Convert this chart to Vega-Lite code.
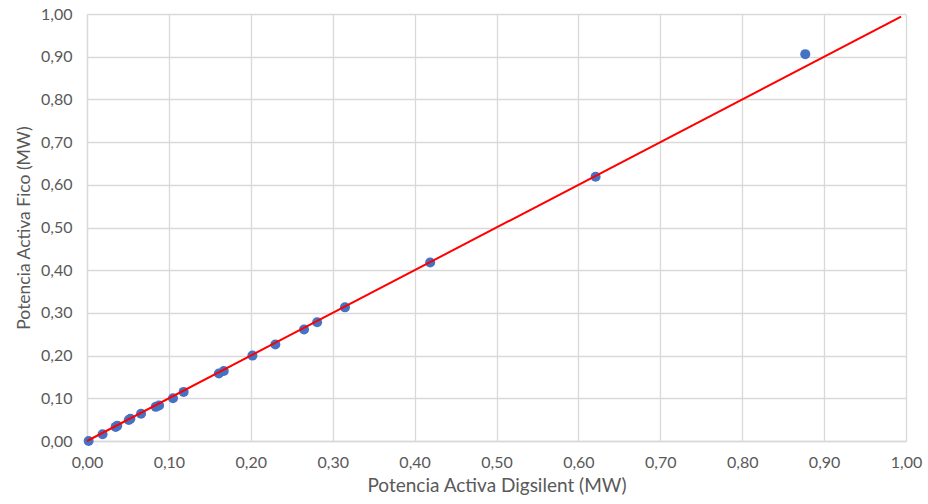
{
  "$schema": "https://vega.github.io/schema/vega-lite/v6.json",
  "width": 819,
  "height": 427,
  "autosize": "none",
  "padding": {"left": 87, "top": 14, "right": 22, "bottom": 63},
  "background": "white",
  "datasets": {
    "points": [
      {"digsilent": 0.002, "fico": 0.0},
      {"digsilent": 0.019, "fico": 0.016},
      {"digsilent": 0.035, "fico": 0.033},
      {"digsilent": 0.037, "fico": 0.036},
      {"digsilent": 0.051, "fico": 0.049},
      {"digsilent": 0.053, "fico": 0.052},
      {"digsilent": 0.066, "fico": 0.064},
      {"digsilent": 0.084, "fico": 0.080},
      {"digsilent": 0.088, "fico": 0.083},
      {"digsilent": 0.105, "fico": 0.100},
      {"digsilent": 0.118, "fico": 0.115},
      {"digsilent": 0.161, "fico": 0.158},
      {"digsilent": 0.167, "fico": 0.164},
      {"digsilent": 0.202, "fico": 0.200},
      {"digsilent": 0.230, "fico": 0.226},
      {"digsilent": 0.265, "fico": 0.261},
      {"digsilent": 0.281, "fico": 0.278},
      {"digsilent": 0.315, "fico": 0.313},
      {"digsilent": 0.419, "fico": 0.418},
      {"digsilent": 0.621, "fico": 0.619},
      {"digsilent": 0.877, "fico": 0.906}
    ],
    "fit": [
      {"digsilent": 0.0, "fico": 0.0},
      {"digsilent": 0.994, "fico": 0.994}
    ]
  },
  "config": {
    "view": {"stroke": null},
    "font": "Lato",
    "axis": {
      "gridColor": "#d9d9d9",
      "gridWidth": 1.3,
      "domainColor": "#d9d9d9",
      "domainWidth": 1.3,
      "ticks": false,
      "labelFlush": false,
      "labelColor": "#595959",
      "labelFontSize": 16,
      "labelFont": "Lato",
      "titleColor": "#595959",
      "titleFont": "Lato",
      "titleFontWeight": "normal"
    }
  },
  "layer": [
    {
      "data": {"name": "points"},
      "mark": {"type": "point", "filled": true, "size": 100, "color": "#4472C4", "opacity": 1},
      "encoding": {
        "x": {
          "field": "digsilent", "type": "quantitative",
          "scale": {"domain": [0, 1], "nice": false, "zero": true, "padding": 0},
          "axis": {
            "title": "Potencia Activa Digsilent (MW)",
            "titleFontSize": 19,
            "values": [0, 0.1, 0.2, 0.3, 0.4, 0.5, 0.6, 0.7, 0.8, 0.9, 1.0],
            "labelExpr": "replace(format(datum.value, '.2f'), '.', ',')",
            "labelPadding": 13,
            "titlePadding": 6
          }
        },
        "y": {
          "field": "fico", "type": "quantitative",
          "scale": {"domain": [0, 1], "nice": false, "zero": true, "padding": 0},
          "axis": {
            "title": "Potencia Activa Fico (MW)",
            "titleFontSize": 17.5,
            "values": [0, 0.1, 0.2, 0.3, 0.4, 0.5, 0.6, 0.7, 0.8, 0.9, 1.0],
            "labelExpr": "replace(format(datum.value, '.2f'), '.', ',')",
            "labelPadding": 15,
            "titlePadding": 7
          }
        }
      }
    },
    {
      "data": {"name": "fit"},
      "mark": {"type": "line", "color": "#FF0000", "strokeWidth": 2},
      "encoding": {
        "x": {"field": "digsilent", "type": "quantitative"},
        "y": {"field": "fico", "type": "quantitative"}
      }
    }
  ]
}
